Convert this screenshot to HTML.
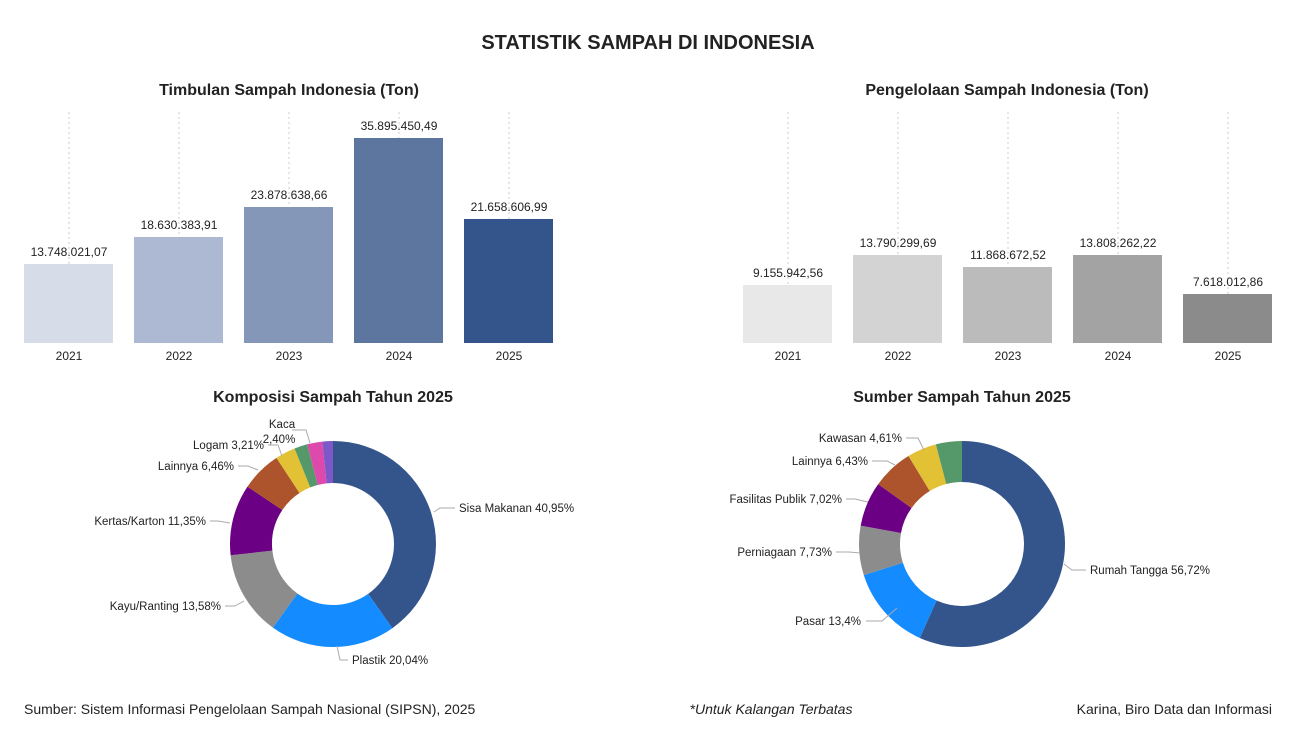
<!DOCTYPE html>
<html><head><meta charset="utf-8"><style>
body{margin:0;background:#fff;width:1297px;height:749px;overflow:hidden;font-family:"Liberation Sans",sans-serif;}
svg text{font-family:"Liberation Sans",sans-serif;fill:#222;}
</style></head><body>
<svg id="s" width="1297" height="749" xmlns="http://www.w3.org/2000/svg">
<text x="648" y="49" text-anchor="middle" font-size="20" font-weight="bold">STATISTIK SAMPAH DI INDONESIA</text>
<text x="289" y="95" text-anchor="middle" font-size="16" font-weight="bold">Timbulan Sampah Indonesia (Ton)</text>
<text x="1007" y="95" text-anchor="middle" font-size="16" font-weight="bold">Pengelolaan Sampah Indonesia (Ton)</text>
<text x="333" y="402" text-anchor="middle" font-size="16" font-weight="bold">Komposisi Sampah Tahun 2025</text>
<text x="962" y="402" text-anchor="middle" font-size="16" font-weight="bold">Sumber Sampah Tahun 2025</text>
<text x="24" y="714" font-size="14">Sumber: Sistem Informasi Pengelolaan Sampah Nasional (SIPSN), 2025</text>
<text x="771" y="714" text-anchor="middle" font-size="14" font-style="italic">*Untuk Kalangan Terbatas</text>
<text x="1272" y="714" text-anchor="end" font-size="14">Karina, Biro Data dan Informasi</text>
<g id="g"></g>
</svg>
<script>
var g=document.getElementById('g'),h='';
function bars(x0,tops,cols,vals){for(var i=0;i<5;i++){var x=x0+110*i;
h+='<line x1="'+(x+45)+'" y1="112" x2="'+(x+45)+'" y2="343" stroke="#ccc" stroke-dasharray="2,3"/>';
h+='<rect x="'+x+'" y="'+tops[i]+'" width="89" height="'+(343-tops[i])+'" fill="'+cols[i]+'"/>';
h+='<text x="'+(x+45)+'" y="'+(tops[i]-8)+'" text-anchor="middle" font-size="12">'+vals[i]+'</text>';
h+='<text x="'+(x+45)+'" y="360" text-anchor="middle" font-size="12">'+(2021+i)+'</text>';}}
bars(24,[264,237,207,138,219],['#d6dde8','#adb9d3','#8597b9','#5d76a0','#34558c'],['13.748.021,07','18.630.383,91','23.878.638,66','35.895.450,49','21.658.606,99']);
bars(743,[285,255,267,255,294],['#e8e8e8','#d3d3d3','#bbbbbb','#a3a3a3','#8b8b8b'],['9.155.942,56','13.790.299,69','11.868.672,52','13.808.262,22','7.618.012,86']);
function donut(cx,cy,R,r,data){var tot=0;data.forEach(function(d){tot+=d[0];});var a=0;data.forEach(function(d){var a1=a+d[0]/tot*2*Math.PI;
function p(rr,t){return (cx+rr*Math.sin(t)).toFixed(2)+','+(cy-rr*Math.cos(t)).toFixed(2);}
var l=(a1-a)>Math.PI?1:0;
h+='<path d="M'+p(R,a)+' A'+R+','+R+' 0 '+l+' 1 '+p(R,a1)+' L'+p(r,a1)+' A'+r+','+r+' 0 '+l+' 0 '+p(r,a)+'Z" fill="'+d[1]+'"/>';a=a1;});}
donut(333,544,103,61,[[40.95,'#34558c'],[20.04,'#148cff'],[13.58,'#8c8c8c'],[11.35,'#6c0084'],[6.46,'#ad542c'],[3.21,'#e3c135'],[2.1,'#55996a'],[2.4,'#de4aab'],[1.7,'#7e57c8']]);
donut(962,544,103,62,[[56.72,'#34558c'],[13.4,'#148cff'],[7.73,'#8c8c8c'],[7.02,'#6c0084'],[6.43,'#ad542c'],[4.61,'#e3c135'],[4.09,'#55996a']]);
function lab(pts,tx,ty,t,anc){h+='<polyline points="'+pts+'" fill="none" stroke="#aaa"/>';h+='<text x="'+tx+'" y="'+ty+'" text-anchor="'+anc+'" font-size="11.5">'+t+'</text>';}
lab('434,512 440,508 455,508',459,512,'Sisa Makanan 40,95%','start');
lab('337,646 340,660 348,660',352,664,'Plastik 20,04%','start');
lab('244,601 235,606 225,606',221,610,'Kayu/Ranting 13,58%','end');
lab('230,523 218,521 210,521',206,525,'Kertas/Karton 11,35%','end');
lab('258,470 248,466 238,466',234,470,'Lainnya 6,46%','end');
lab('282,456 278,445 268,445',264,449,'Logam 3,21%','end');
lab('310,443 306,430 292,430',282,428,'Kaca','middle');
h+='<text x="279" y="443" text-anchor="middle" font-size="11.5">2,40%</text>';
lab('1064,564 1072,570 1086,570',1090,574,'Rumah Tangga 56,72%','start');
lab('897,608 882,621 866,621',861,625,'Pasar 13,4%','end');
lab('860,553 849,552 836,552',832,556,'Perniagaan 7,73%','end');
lab('868,502 855,499 846,499',842,503,'Fasilitas Publik 7,02%','end');
lab('895,465 887,461 872,461',868,465,'Lainnya 6,43%','end');
lab('924,450 918,438 906,438',902,442,'Kawasan 4,61%','end');
g.innerHTML=h;
</script>
</body></html>
